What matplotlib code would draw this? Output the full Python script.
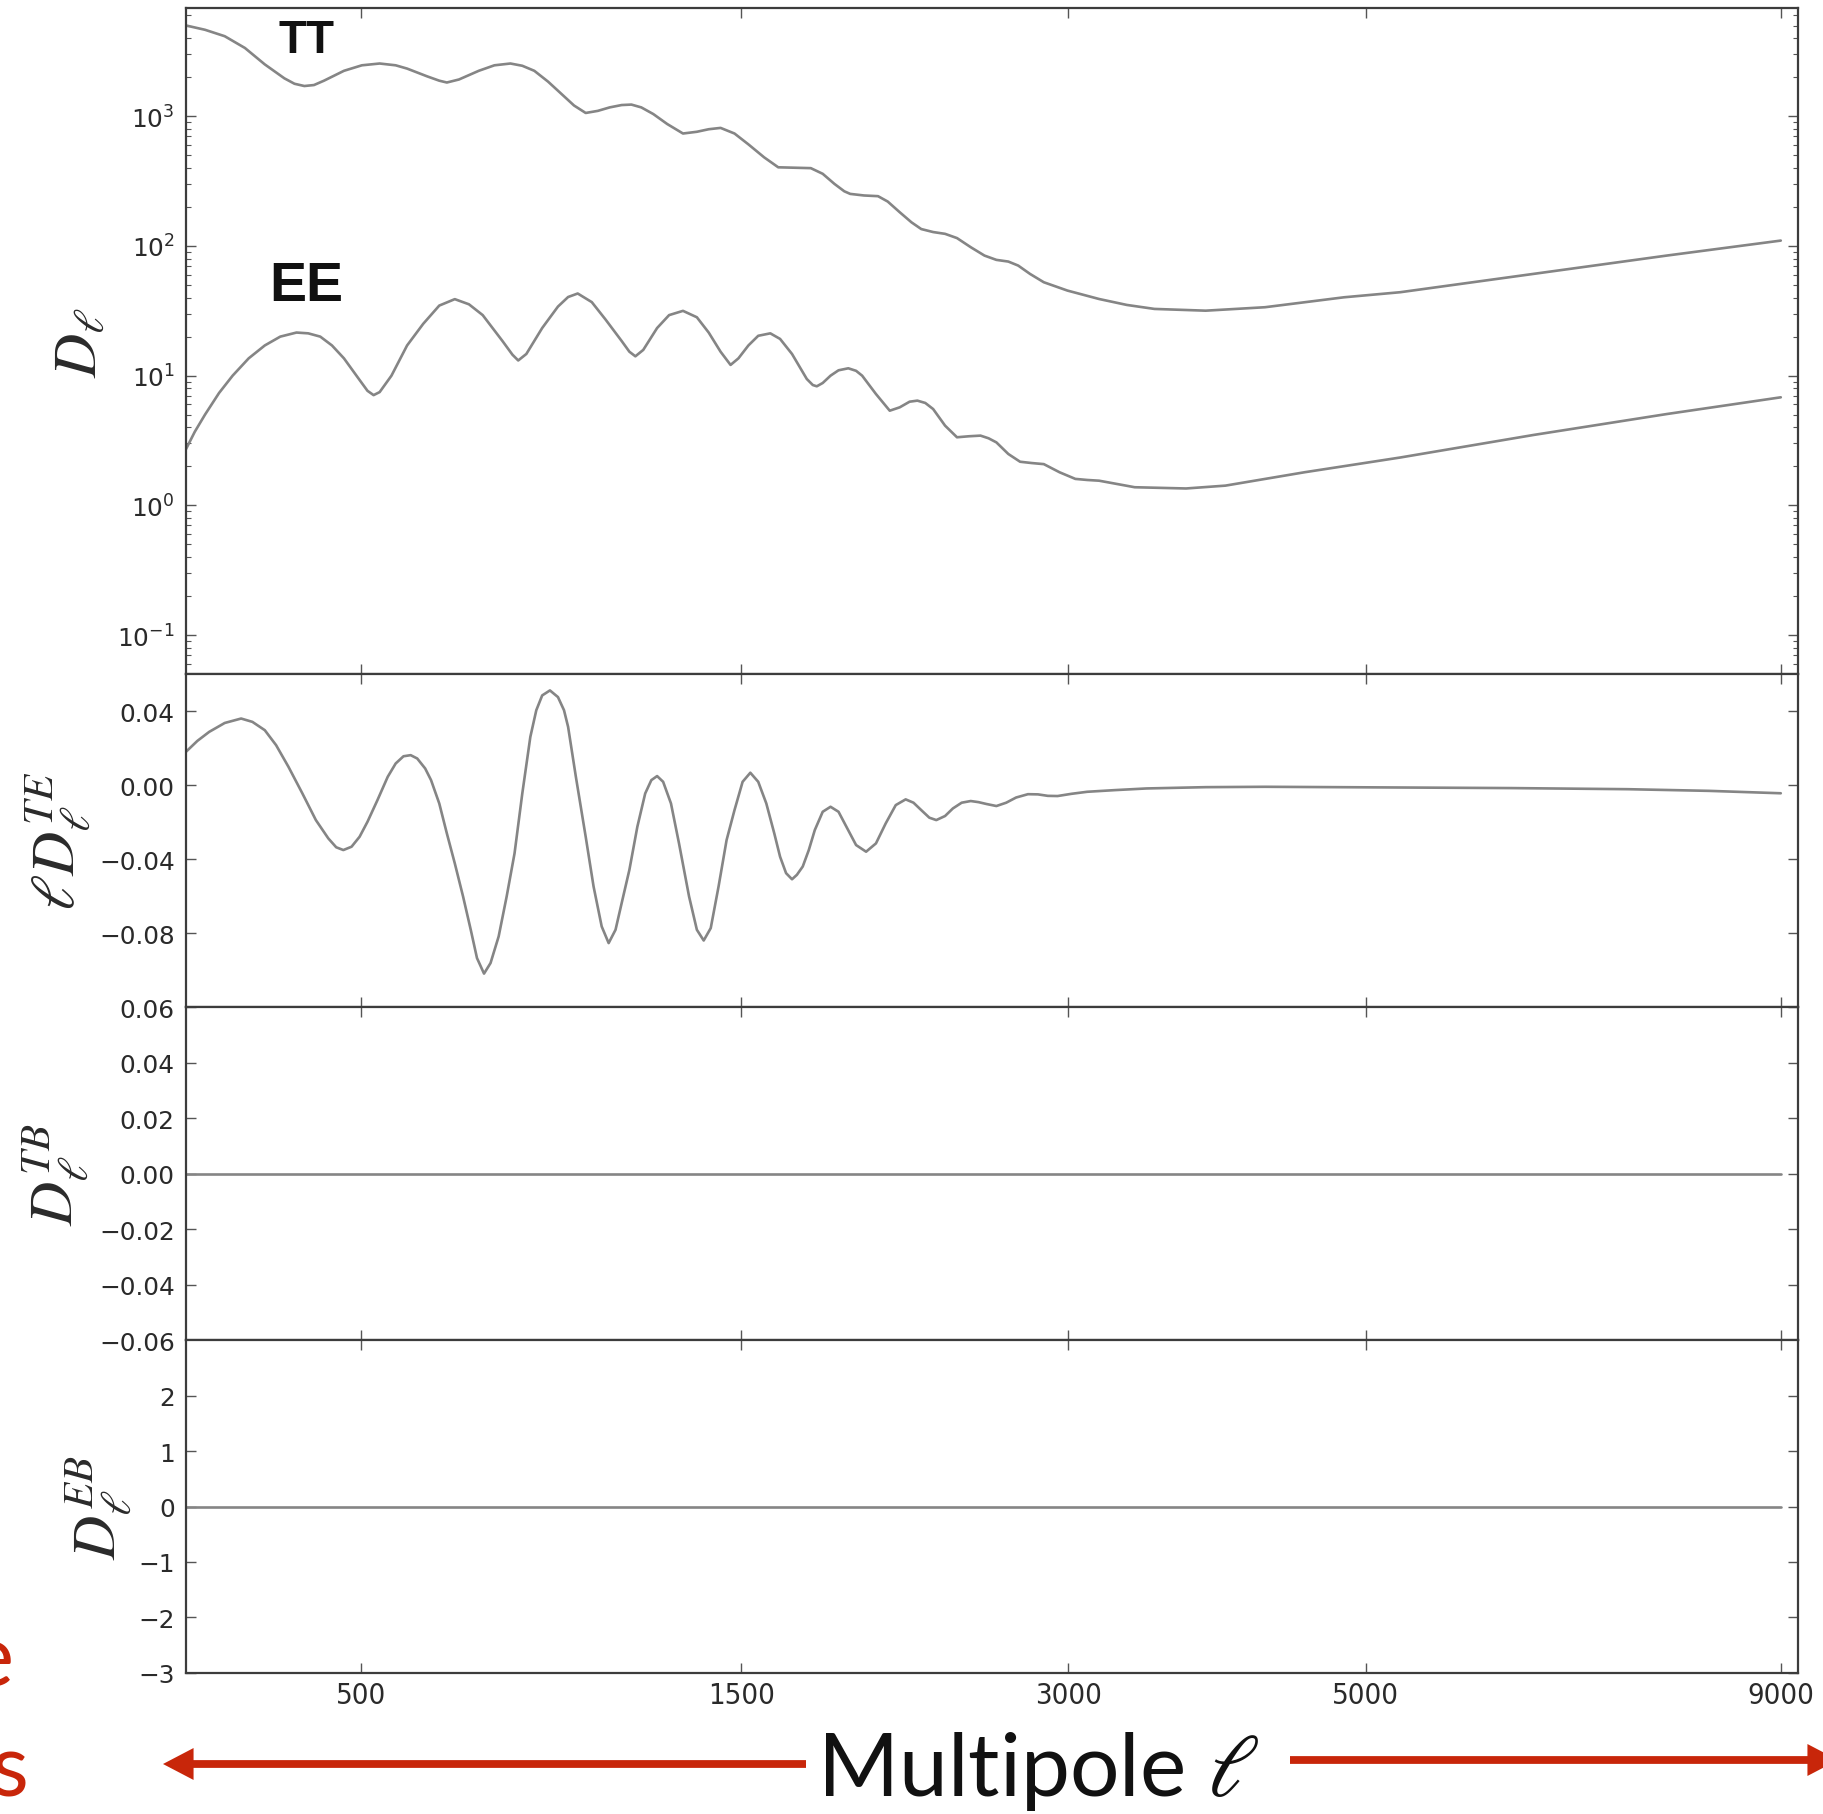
import numpy as np
import matplotlib
matplotlib.use('Agg')
import matplotlib.pyplot as plt
from matplotlib.ticker import FixedLocator, NullLocator, LogLocator, NullFormatter, FuncFormatter

# ---------------- data ----------------
ell_tt = [250,272,296,322,349,377,392,407,422,438,471,502,534,564,
          586,626,651,667,693,737,773,811,840,870,905,942,974,1006,
          1040,1074,1109,1138,1168,1205,1249,1300,1346,1386,1427,1476,1526,1584,
          1637,1764,1812,1860,1901,1926,1985,2046,2089,2143,2197,2242,2298,2355,
          2413,2481,2550,2611,2673,2725,2788,2863,2994,3176,3341,3511,3841,4247,
          4830,5276,6434,7747,9000]
d_tt = [5010,4640,4140,3360,2510,1960,1780,1710,1740,1880,2240,2470,2550,2470,
        2330,2030,1880,1820,1920,2240,2470,2550,2450,2240,1850,1470,1210,1060,
        1100,1170,1220,1230,1170,1040,871,736,759,794,813,736,607,482,
        404,398,360,301,264,252,245,242,220,182,152,135,128,124,
        115,97.8,84.3,78.1,75.8,70.6,60.9,52.5,45.3,39,35.1,32.7,31.7,33.7,
        40.2,44,60.9,84.3,110]

ell_ee = [250,260,272,289,306,327,349,371,395,413,432,451,471,498,
          512,523,534,556,586,618,651,684,715,746,792,816,830,850,
          890,931,958,984,1023,1062,1109,1132,1150,1174,1217,1255,1300,1346,
          1386,1427,1462,1490,1526,1562,1607,1644,1690,1748,1772,1788,1812,1844,
          1877,1918,1951,1977,2037,2098,2143,2188,2224,2261,2298,2355,2413,2471,
          2530,2571,2611,2673,2735,2798,2863,2950,3039,3107,3176,3389,3712,3973,
          4532,5276,6434,7747,9000]
d_ee = [2.71,3.69,5.01,7.36,10,13.6,17.1,20,21.5,21.2,20,17.1,13.6,9.26,
        7.64,7.08,7.47,10,17.1,25.1,34.7,38.9,35.5,29.3,18.5,14.5,13.1,14.7,
        23.3,34.1,40.4,43,36.9,27.1,18.5,15.3,14.1,15.8,23.3,29.3,31.6,28.2,
        21.5,15.3,12.1,13.6,17.1,20.3,21.2,19.2,14.7,9.43,8.47,8.28,8.78,10,
        11,11.4,10.9,10,7.22,5.37,5.7,6.3,6.42,6.16,5.53,4.12,3.35,3.41,
        3.45,3.29,3.06,2.49,2.17,2.12,2.08,1.8,1.6,1.57,1.55,1.38,1.35,1.42,
        1.8,2.34,3.49,5.06,6.81]

ell_te = [250,263,277,296,317,332,349,365,383,404,425,445,458,470,
          484,498,512,530,549,564,579,593,606,622,634,651,667,684,
          702,719,733,749,764,783,802,821,840,860,875,890,910,931,
          947,958,979,1006,1028,1051,1071,1091,1109,1132,1156,1180,1199,1217,
          1236,1261,1287,1320,1346,1369,1393,1420,1448,1476,1505,1533,1562,1592,
          1622,1644,1667,1690,1709,1732,1756,1780,1812,1844,1877,1910,1951,1994,
          2037,2080,2125,2170,2206,2242,2280,2313,2355,2393,2436,2481,2520,2560,
          2611,2662,2714,2777,2831,2885,2939,3017,3107,3269,3462,3841,4247,6233,
          7346,8197,9000]
ld_te = [0.0180,0.0239,0.0288,0.0336,0.0360,0.0342,0.0297,0.0216,0.0099,-0.0045,-0.0189,-0.0288,-0.0336,-0.0351,
         -0.0333,-0.0279,-0.0198,-0.0081,0.0045,0.0117,0.0156,0.0162,0.0144,0.0090,0.0027,-0.0099,-0.0261,-0.0423,
         -0.0602,-0.0782,-0.0935,-0.1019,-0.0962,-0.0818,-0.0602,-0.0369,-0.0045,0.0261,0.0405,0.0485,0.0512,0.0476,
         0.0405,0.0315,0.0045,-0.0279,-0.0548,-0.0764,-0.0854,-0.0782,-0.0638,-0.0458,-0.0225,-0.0045,0.0027,0.0049,
         0.0018,-0.0099,-0.0315,-0.0602,-0.0782,-0.0840,-0.0773,-0.0548,-0.0297,-0.0135,0.0018,0.0067,0.0018,-0.0099,
         -0.0261,-0.0387,-0.0476,-0.0509,-0.0485,-0.0440,-0.0351,-0.0243,-0.0144,-0.0117,-0.0144,-0.0225,-0.0324,-0.0360,
         -0.0315,-0.0207,-0.0108,-0.0077,-0.0095,-0.0135,-0.0176,-0.0189,-0.0167,-0.0126,-0.0095,-0.0086,-0.0092,-0.0102,
         -0.0113,-0.0095,-0.0067,-0.0049,-0.0050,-0.0058,-0.0059,-0.0047,-0.0036,-0.0027,-0.0018,-0.0011,-0.0009,-0.0016,
         -0.0022,-0.0031,-0.0044]

ell_flat = [250, 9000]
d_tb = [0.0, 0.0]
d_eb = [0.0, 0.0]

x_ticks = [500, 1500, 3000, 5000, 9000]
x_ticklabels = ['500', '1500', '3000', '5000', '9000']
te_ticks = [-0.08, -0.04, 0.00, 0.04]
tb_ticks = [-0.06, -0.04, -0.02, 0.00, 0.02, 0.04, 0.06]
eb_ticks = [-3, -2, -1, 0, 1, 2]
ylabels = [r'$D_\ell$', r'$\ell D_\ell^{TE}$', r'$D_\ell^{TB}$', r'$D_\ell^{EB}$']

# ---------------- style ----------------
plt.rcParams['mathtext.fontset'] = 'stix'
plt.rcParams['font.family'] = ['DejaVu Sans']
LINE = '#858585'
SPINE = '#3c3c3c'
TXT = '#2a2a2a'
RED = '#c8260a'

P = 0.35
fwd = lambda x: np.clip(x, 1e-9, None) ** P
inv = lambda x: np.clip(x, 1e-9, None) ** (1.0 / P)

fig = plt.figure(figsize=(18.23, 18.15), dpi=100)
gs = fig.add_gridspec(4, 1, height_ratios=[2, 1, 1, 1], left=0.1020, right=0.9863,
                      top=0.9949, bottom=0.0777, hspace=0)
axs = [fig.add_subplot(gs[0])]
for i in range(1, 4):
    axs.append(fig.add_subplot(gs[i], sharex=axs[0]))

kw = dict(color=LINE, lw=1.9, solid_joinstyle='round', solid_capstyle='round')
axs[0].plot(ell_tt, d_tt, **kw)
axs[0].plot(ell_ee, d_ee, **kw)
axs[1].plot(ell_te, ld_te, **kw)
axs[2].plot(ell_flat, d_tb, **kw)
axs[3].plot(ell_flat, d_eb, **kw)

axs[0].set_yscale('log')
for a in axs:
    a.set_xscale('function', functions=(fwd, inv))
axs[0].set_xlim(250, 9200)

axs[0].set_ylim(0.05, 6800)
axs[1].set_ylim(-0.12, 0.06)
axs[2].set_ylim(-0.06, 0.06)
axs[3].set_ylim(-3, 3)

def fmt_dec(v, pos):
    s = '%.2f' % v
    if s.startswith('-') and abs(v) > 1e-12:
        s = '\u2212' + s[1:]
    elif s.startswith('-'):
        s = s[1:]
    return s
def fmt_int(v, pos):
    s = '%d' % round(v)
    return s.replace('-', '\u2212')
def fmt_log(v, pos):
    e = int(round(np.log10(v)))
    return r'$\mathregular{10^{%d}}$' % e

axs[0].yaxis.set_major_locator(LogLocator(base=10, numticks=20))
axs[0].yaxis.set_minor_locator(LogLocator(base=10, subs=np.arange(2, 10), numticks=50))
axs[0].yaxis.set_major_formatter(FuncFormatter(fmt_log))
axs[0].yaxis.set_minor_formatter(NullFormatter())
axs[1].yaxis.set_major_locator(FixedLocator(te_ticks))
axs[1].yaxis.set_major_formatter(FuncFormatter(fmt_dec))
axs[2].yaxis.set_major_locator(FixedLocator(tb_ticks))
axs[2].yaxis.set_major_formatter(FuncFormatter(fmt_dec))
axs[3].yaxis.set_major_locator(FixedLocator(eb_ticks))
axs[3].yaxis.set_major_formatter(FuncFormatter(fmt_int))

for i, a in enumerate(axs):
    a.xaxis.set_major_locator(FixedLocator(x_ticks))
    a.xaxis.set_minor_locator(NullLocator())
    for sp in a.spines.values():
        sp.set_color(SPINE)
        sp.set_linewidth(1.6)
    a.tick_params(which='major', direction='in', top=True, right=True, length=7,
                  width=1.0, color='#555555')
    a.tick_params(which='minor', direction='in', top=True, right=True, length=3.5,
                  width=0.8, color='#555555')
    a.tick_params(axis='y', which='major', pad=8, labelsize=17.8, labelcolor=TXT)
    if i < 3:
        a.tick_params(axis='x', labelbottom=False)

axs[3].set_xticks(x_ticks)
axs[3].set_xticklabels(x_ticklabels, family='DejaVu Sans', fontstretch='condensed',
                       fontsize=21, color=TXT)
for t in axs[3].get_xticklabels():
    t.set_fontstretch('condensed')
axs[3].tick_params(axis='x', pad=6)

label_x = [-0.0663, -0.0794, -0.0806, -0.0539]
for a, lab, lx in zip(axs, ylabels, label_x):
    a.set_ylabel(lab, fontsize=44, color=TXT, va='center')
    a.yaxis.set_label_coords(lx, 0.5)

axs[0].text(410, 3900, 'TT', ha='center', va='center', fontsize=33, fontweight='bold',
            family=['Liberation Sans', 'DejaVu Sans'], color='#111111')
axs[0].text(410, 49, 'EE', ha='center', va='center', fontsize=40, fontweight='bold',
            family=['Liberation Sans', 'DejaVu Sans'], color='#111111')

# ---------------- slide annotations ----------------
W, H = 1823.0, 1815.0
fig.text(1038 / W, 19 / H, r'Multipole $\ell$', ha='center', va='baseline', fontsize=63,
         family=['Lato', 'DejaVu Sans'], color='#111111')
fig.text(14 / W, (H - 1686) / H, 'Large', ha='right', va='baseline', fontsize=63,
         family=['Lato', 'DejaVu Sans'], color=RED)
fig.text(29 / W, 19 / H, 'scales', ha='right', va='baseline', fontsize=63,
         family=['Lato', 'DejaVu Sans'], color=RED)

arrow_style = 'simple,head_length=22,head_width=23,tail_width=5.6'
axs[3].annotate('', xy=(163 / W, 50 / H), xytext=(806 / W, 50 / H), xycoords='figure fraction',
                textcoords='figure fraction', annotation_clip=False,
                arrowprops=dict(arrowstyle=arrow_style, color=RED, lw=0, shrinkA=0, shrinkB=0,
                                mutation_scale=1))
axs[3].annotate('', xy=(1838 / W, 54 / H), xytext=(1290 / W, 54 / H), xycoords='figure fraction',
                textcoords='figure fraction', annotation_clip=False,
                arrowprops=dict(arrowstyle=arrow_style, color=RED, lw=0, shrinkA=0, shrinkB=0,
                                mutation_scale=1))

fig.savefig('out.png', dpi=100)
